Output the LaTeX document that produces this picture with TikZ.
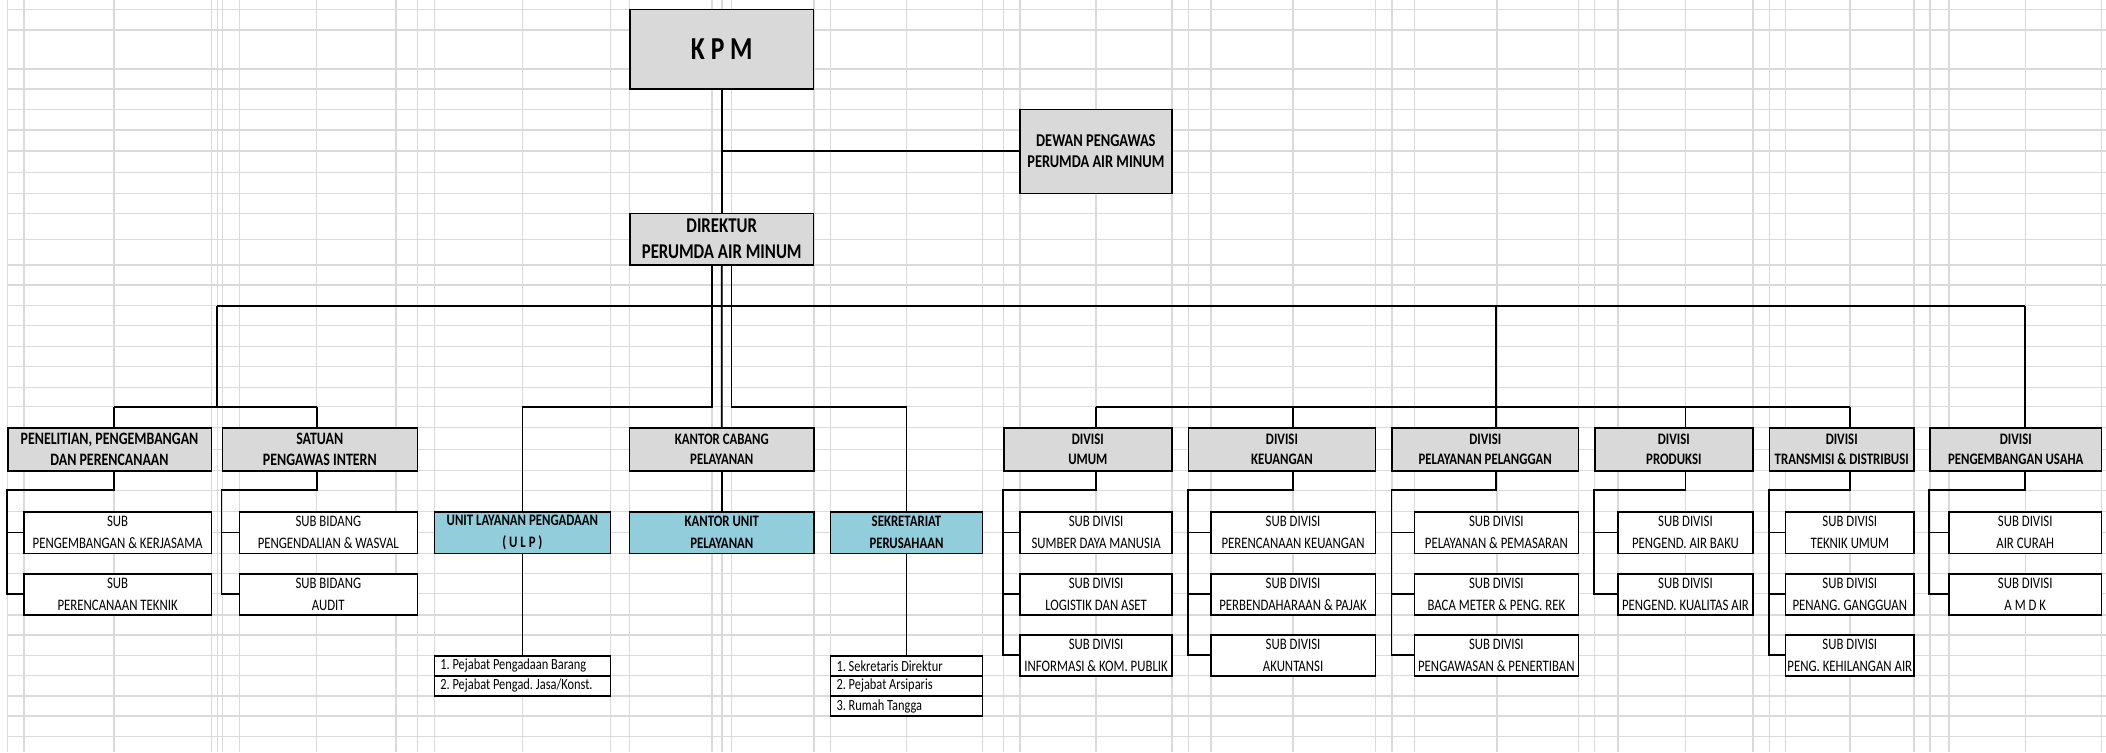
\documentclass[tikz,border=0pt]{standalone}
\usepackage{fontspec}
\setmainfont{Carlito}[FakeStretch=0.8]
\frenchspacing
\definecolor{gridc}{RGB}{218,218,218}
\definecolor{hdrfill}{RGB}{217,217,217}
\definecolor{bluefill}{RGB}{146,205,220}
\tikzset{
  gridline/.style={draw=gridc, line width=0.75pt},
  cellbase/.style={draw=black, line width=0.8pt, inner xsep=0.5pt, inner ysep=0pt, align=center, text=black},
  kpmbox/.style={cellbase, fill=hdrfill, font=\fontsize{16}{19}\selectfont\bfseries},
  dirbox/.style={cellbase, fill=hdrfill, font=\fontsize{10.5}{13}\selectfont\bfseries},
  dewbox/.style={cellbase, fill=hdrfill, font=\fontsize{9}{10.85}\selectfont\bfseries},
  hdrbox/.style={cellbase, fill=hdrfill, font=\fontsize{8}{10.4}\selectfont\bfseries},
  hdrbig/.style={cellbase, fill=hdrfill, font=\fontsize{8.7}{10.4}\selectfont\bfseries},
  bluebox/.style={cellbase, fill=bluefill, font=\fontsize{8}{10.8}\selectfont\bfseries},
  subbox/.style={cellbase, fill=white, font=\fontsize{8}{10.8}\selectfont},
  listbox/.style={cellbase, fill=white, font=\fontsize{7.75}{9}\selectfont},
  conn/.style={draw=black, line width=0.9pt},
}
\newcommand\cellbox[7]{%
  \pgfmathsetmacro\cbw{(#5-#3)*0.5}%
  \pgfmathsetmacro\cbh{(#6-#4)*0.5}%
  \pgfmathsetmacro\cbx{(#3+#5)/2}%
  \pgfmathsetmacro\cby{(#4+#6)/2}%
  \node[#1, minimum width=\cbw pt, minimum height=\cbh pt] (#2) at (\cbx,\cby) {#7};}
\newcommand\listrow[6]{%
  \pgfmathsetmacro\cbw{(#4-#2)*0.5}%
  \pgfmathsetmacro\cbh{(#5-#3)*0.5}%
  \pgfmathsetmacro\cbx{(#2+#4)/2}%
  \pgfmathsetmacro\cby{(#3+#5)/2}%
  \pgfmathsetmacro\cbt{\cbw-6}%
  \node[listbox, minimum width=\cbw pt, minimum height=\cbh pt, inner xsep=3pt] (#1) at (\cbx,\cby) {\makebox[\cbt pt][l]{#6}};}
\begin{document}
\begin{tikzpicture}[x=0.5pt, y=-0.5pt]
\useasboundingbox (0,0) rectangle (2106,752);
\fill[white] (0,0) rectangle (2106,752);
% spreadsheet grid
\foreach \gx in {7.7, 24, 114, 211.3, 217.3, 222.3, 239.3, 316.7, 396, 417.3, 434.3, 522.4, 610.5, 629.6, 712, 722, 731.5, 814, 830.5, 906.4, 982.5, 1003.7, 1020.2, 1096.2, 1172, 1188.6, 1210.8, 1293, 1375.3, 1392.2, 1414.4, 1497, 1578.3, 1594.7, 1618, 1685.5, 1753, 1769.4, 1785.6, 1849.8, 1914, 1930, 1949, 2025.3, 2101.5}
  \draw[gridline] (\gx,0) -- (\gx,752);
\foreach \gy in {9.3, 30, 69, 89, 109.3, 130, 151, 172.7, 193.3, 213.3, 239.3, 265, 285, 305.7, 325.7, 346.7, 366.7, 387.3, 406.7, 427.7, 449.3, 470.7, 490.3, 511.7, 532.3, 553.3, 573.7, 593.3, 615, 635, 655.7, 675.7, 696, 716, 736.7}
  \draw[gridline] (7.7,\gy) -- (2106,\gy);

% top level
\cellbox{kpmbox}{kpm}{630}{9.3}{813.5}{89}{K P M}
\cellbox{dewbox}{dewan}{1020}{109.3}{1171.7}{193.3}{DEWAN PENGAWAS\\PERUMDA AIR MINUM}
\cellbox{dirbox}{dir}{630}{213.3}{813.5}{265}{DIREKTUR\\PERUMDA AIR MINUM}

% second level
\cellbox{hdrbig}{pen}{7.7}{427.7}{211.3}{470.7}{PENELITIAN, PENGEMBANGAN\\DAN PERENCANAAN}
\cellbox{hdrbig}{sat}{222.3}{427.7}{417.3}{470.7}{SATUAN\\PENGAWAS INTERN}
\cellbox{hdrbox}{kcab}{629.6}{427.7}{814}{470.7}{KANTOR CABANG\\PELAYANAN}
\cellbox{hdrbox}{umum}{1003.7}{427.7}{1172}{470.7}{DIVISI\\UMUM}
\cellbox{hdrbox}{keu}{1188.6}{427.7}{1375.3}{470.7}{DIVISI\\KEUANGAN}
\cellbox{hdrbox}{pel}{1392.2}{427.7}{1578.3}{470.7}{DIVISI\\PELAYANAN PELANGGAN}
\cellbox{hdrbox}{prod}{1594.7}{427.7}{1753}{470.7}{DIVISI\\PRODUKSI}
\cellbox{hdrbox}{trans}{1769.4}{427.7}{1914}{470.7}{DIVISI\\TRANSMISI \& DISTRIBUSI}
\cellbox{hdrbox}{pu}{1930}{427.7}{2101.5}{470.7}{DIVISI\\PENGEMBANGAN USAHA}

% blue units
\cellbox{bluebox}{ulp}{434.3}{511.7}{610.5}{553.3}{UNIT LAYANAN PENGADAAN\\( U L P )}
\cellbox{bluebox}{kunit}{629.6}{511.7}{814}{553.3}{KANTOR UNIT\\PELAYANAN}
\cellbox{bluebox}{sek}{830.5}{511.7}{982.5}{553.3}{SEKRETARIAT\\PERUSAHAAN}

% sub boxes
\cellbox{subbox}{pn1}{24}{511.7}{211.3}{553.3}{SUB\\PENGEMBANGAN \& KERJASAMA}
\cellbox{subbox}{pn2}{24}{573.7}{211.3}{615}{SUB\\PERENCANAAN TEKNIK}
\cellbox{subbox}{st1}{239.3}{511.7}{417.3}{553.3}{SUB BIDANG\\PENGENDALIAN \& WASVAL}
\cellbox{subbox}{st2}{239.3}{573.7}{417.3}{615}{SUB BIDANG\\AUDIT}
\cellbox{subbox}{u1}{1020.2}{511.7}{1172}{553.3}{SUB DIVISI\\SUMBER DAYA MANUSIA}
\cellbox{subbox}{u2}{1020.2}{573.7}{1172}{615}{SUB DIVISI\\LOGISTIK DAN ASET}
\cellbox{subbox}{u3}{1020.2}{635}{1172}{675.7}{SUB DIVISI\\INFORMASI \& KOM. PUBLIK}
\cellbox{subbox}{k1}{1210.8}{511.7}{1375.3}{553.3}{SUB DIVISI\\PERENCANAAN KEUANGAN}
\cellbox{subbox}{k2}{1210.8}{573.7}{1375.3}{615}{SUB DIVISI\\PERBENDAHARAAN \& PAJAK}
\cellbox{subbox}{k3}{1210.8}{635}{1375.3}{675.7}{SUB DIVISI\\AKUNTANSI}
\cellbox{subbox}{p1}{1414.4}{511.7}{1578.3}{553.3}{SUB DIVISI\\PELAYANAN \& PEMASARAN}
\cellbox{subbox}{p2}{1414.4}{573.7}{1578.3}{615}{SUB DIVISI\\BACA METER \& PENG. REK}
\cellbox{subbox}{p3}{1414.4}{635}{1578.3}{675.7}{SUB DIVISI\\PENGAWASAN \& PENERTIBAN}
\cellbox{subbox}{r1}{1618}{511.7}{1753}{553.3}{SUB DIVISI\\PENGEND. AIR BAKU}
\cellbox{subbox}{r2}{1618}{573.7}{1753}{615}{SUB DIVISI\\PENGEND. KUALITAS AIR}
\cellbox{subbox}{t1}{1785.6}{511.7}{1914}{553.3}{SUB DIVISI\\TEKNIK UMUM}
\cellbox{subbox}{t2}{1785.6}{573.7}{1914}{615}{SUB DIVISI\\PENANG. GANGGUAN}
\cellbox{subbox}{t3}{1785.6}{635}{1914}{675.7}{SUB DIVISI\\PENG. KEHILANGAN AIR}
\cellbox{subbox}{g1}{1949}{511.7}{2101.5}{553.3}{SUB DIVISI\\AIR CURAH}
\cellbox{subbox}{g2}{1949}{573.7}{2101.5}{615}{SUB DIVISI\\A M D K}

% lists
\listrow{la1}{434.3}{655.7}{610.5}{675.7}{1. Pejabat Pengadaan Barang}
\listrow{la2}{434.3}{675.7}{610.5}{696}{2. Pejabat Pengad. Jasa/Konst.}
\listrow{ls1}{830.5}{655.7}{982.5}{675.7}{1. Sekretaris Direktur}
\listrow{ls2}{830.5}{675.7}{982.5}{696}{2. Pejabat Arsiparis}
\listrow{ls3}{830.5}{696}{982.5}{716}{3. Rumah Tangga}

% helper coordinates
\coordinate (topbus) at (0,305.7);
\coordinate (midbus) at (0,406.7);
\coordinate (elbow) at (0,490.3);
\coordinate (dL) at (712,265);
\coordinate (dR) at (731.5,265);
\coordinate (lbus) at (217.3,305.7);
\coordinate (penStem) at (114,427.7);
\coordinate (satStem) at (316.7,427.7);

% connectors
\draw[conn] (kpm.south) -- (dir.north);
\draw[conn] (kpm.south |- dewan.west) -- (dewan.west);
\draw[conn] (dir.south) -- (kcab.north);
\draw[conn] (kcab.south) -- (kunit.north);
\draw[conn] (dL) |- (midbus -| ulp.north) -- (ulp.north);
\draw[conn] (dR) |- (midbus -| sek.north) -- (sek.north);
\draw[conn] (ulp.south) -- (la1.north);
\draw[conn] (sek.south) -- (ls1.north);
\draw[conn] (lbus) -- (topbus -| g1.north);
\draw[conn] (lbus) -- (lbus |- midbus);
\draw[conn] (penStem |- midbus) -- (satStem |- midbus);
\draw[conn] (penStem |- midbus) -- (penStem);
\draw[conn] (satStem |- midbus) -- (satStem);
\draw[conn] (topbus -| p1.north) -- (pel.north -| p1.north);
\draw[conn] (topbus -| g1.north) -- (pu.north -| g1.north);
\draw[conn] (midbus -| u1.north) -- (midbus -| t1.north);
\draw[conn] (midbus -| u1.north) -- (umum.north -| u1.north);
\draw[conn] (midbus -| k1.north) -- (keu.north -| k1.north);
\draw[conn] (midbus -| r1.north) -- (prod.north -| r1.north);
\draw[conn] (midbus -| t1.north) -- (trans.north -| t1.north);

% sub-group connectors
\draw[conn] (pen.south -| penStem) -- (elbow -| penStem) -| (pen.west |- pn2.west) -- (pn2.west);
\draw[conn] (pen.west |- pn1.west) -- (pn1.west);
\draw[conn] (sat.south -| satStem) -- (elbow -| satStem) -| (sat.west |- st2.west) -- (st2.west);
\draw[conn] (sat.west |- st1.west) -- (st1.west);
\draw[conn] (umum.south -| u1.north) -- (elbow -| u1.north) -| (umum.west |- u3.west) -- (u3.west);
\draw[conn] (umum.west |- u1.west) -- (u1.west);
\draw[conn] (umum.west |- u2.west) -- (u2.west);
\draw[conn] (keu.south -| k1.north) -- (elbow -| k1.north) -| (keu.west |- k3.west) -- (k3.west);
\draw[conn] (keu.west |- k1.west) -- (k1.west);
\draw[conn] (keu.west |- k2.west) -- (k2.west);
\draw[conn] (pel.south -| p1.north) -- (elbow -| p1.north) -| (pel.west |- p3.west) -- (p3.west);
\draw[conn] (pel.west |- p1.west) -- (p1.west);
\draw[conn] (pel.west |- p2.west) -- (p2.west);
\draw[conn] (prod.south -| r1.north) -- (elbow -| r1.north) -| (prod.west |- r2.west) -- (r2.west);
\draw[conn] (prod.west |- r1.west) -- (r1.west);
\draw[conn] (trans.south -| t1.north) -- (elbow -| t1.north) -| (trans.west |- t3.west) -- (t3.west);
\draw[conn] (trans.west |- t1.west) -- (t1.west);
\draw[conn] (trans.west |- t2.west) -- (t2.west);
\draw[conn] (pu.south -| g1.north) -- (elbow -| g1.north) -| (pu.west |- g2.west) -- (g2.west);
\draw[conn] (pu.west |- g1.west) -- (g1.west);
\end{tikzpicture}
\end{document}
